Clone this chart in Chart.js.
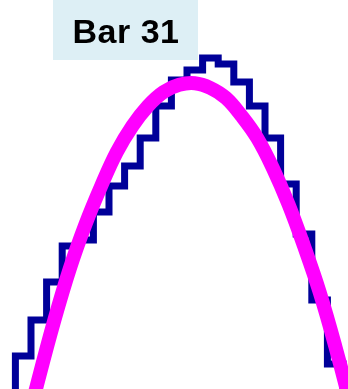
<!DOCTYPE html>
<html>
<head>
<meta charset="utf-8">
<style>
  html, body { margin: 0; padding: 0; background: #ffffff; }
  #wrap { width: 348px; height: 389px; position: relative; }
</style>
<script src="https://cdn.jsdelivr.net/npm/chart.js@4/dist/chart.umd.min.js"></script>
</head>
<body>
<div id="wrap"><canvas id="c" width="348" height="389"></canvas></div>
<script>
// ---- data ----
const titleText = 'Bar 31';
const binCenters = [-1, 0, 1, 2, 3, 4, 5, 6, 7, 8, 9, 10, 11, 12, 13, 14, 15, 16, 17, 18, 19, 20, 21, 22, 23];
const binCounts  = [95, 110, 132, 150, 169, 187, 190, 204, 217, 227, 241, 257, 270, 275, 281, 278, 269, 257, 241, 218, 193, 160, 128, 100, 80];
const fitX       = [-1, 0, 1, 2, 3, 4, 5, 6, 7, 8, 9, 10, 11, 12, 13, 14, 15, 16, 17, 18, 19, 20, 21, 22, 23];
const fitCounts  = [17, 55, 90, 121, 150, 176, 198, 217, 234, 247, 257, 264, 267.6, 268.4, 266, 261, 252, 241, 226, 208, 187, 164, 137, 107, 73];

const titleBox = {
  id: 'titleBox',
  afterDraw(chart) {
    const c = chart.ctx;
    c.save();
    c.fillStyle = 'rgba(173,216,230,0.42)';
    c.fillRect(53, 0, 145, 60);
    c.fillStyle = '#000000';
    c.font = 'bold 34px "Liberation Sans", Arial, sans-serif';
    if ('letterSpacing' in c) c.letterSpacing = '0.5px';
    c.textAlign = 'center';
    c.textBaseline = 'alphabetic';
    c.fillText(titleText, 126, 42.5);
    c.restore();
  }
};

new Chart(document.getElementById('c').getContext('2d'), {
  type: 'line',
  data: {
    datasets: [
      {
        label: 'Fit',
        data: fitX.map((x, i) => ({ x: x, y: fitCounts[i] })),
        borderColor: '#ff00ff',
        borderWidth: 14,
        pointRadius: 0,
        tension: 0.4,
        fill: false
      },
      {
        label: 'Histogram',
        data: binCenters.map((x, i) => ({ x: x, y: binCounts[i] })),
        stepped: 'middle',
        borderColor: '#000099',
        borderWidth: 7,
        borderJoinStyle: 'miter',
        pointRadius: 0,
        fill: false
      }
    ]
  },
  options: {
    responsive: false,
    animation: false,
    layout: { padding: 0 },
    plugins: {
      legend: { display: false },
      tooltip: { enabled: false },
      title: { display: false }
    },
    scales: {
      x: { type: 'linear', display: false, min: -0.487, max: 21.82 },
      y: { type: 'linear', display: false, min: 115.5, max: 310 }
    }
  },
  plugins: [titleBox]
});
</script>
</body>
</html>
